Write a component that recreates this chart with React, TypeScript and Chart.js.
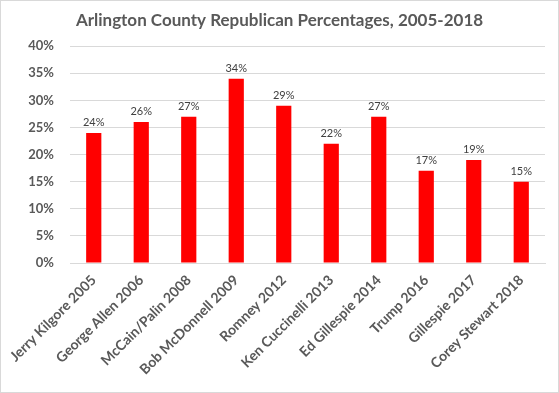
import React, { useEffect, useRef } from "react";
import { Chart, registerables } from "chart.js";

Chart.register(...registerables);

const categories = [
  "Jerry Kilgore 2005",
  "George Allen 2006",
  "McCain/Palin 2008",
  "Bob McDonnell 2009",
  "Romney 2012",
  "Ken Cuccinelli 2013",
  "Ed Gillespie 2014",
  "Trump 2016",
  "Gillespie 2017",
  "Corey Stewart 2018",
];
const percentages = [24, 26, 27, 34, 29, 22, 27, 17, 19, 15];
const yTicks = [0, 5, 10, 15, 20, 25, 30, 35, 40];
const title = "Arlington County Republican Percentages, 2005-2018";

const FONT = "Lato, 'Open Sans', sans-serif";

const dataLabels = {
  id: "dataLabels",
  afterDatasetsDraw(chart: any) {
    const ctx = chart.ctx;
    const meta = chart.getDatasetMeta(0);
    ctx.save();
    ctx.font = `11px ${FONT}`;
    ctx.fillStyle = "#404040";
    ctx.textAlign = "center";
    ctx.textBaseline = "bottom";
    meta.data.forEach((bar: any, i: number) => {
      ctx.fillText(`${percentages[i]}%`, bar.x, bar.y - 5);
    });
    ctx.restore();
  },
};

const frame = {
  id: "frame",
  beforeDraw(chart: any) {
    const ctx = chart.ctx;
    ctx.save();
    ctx.fillStyle = "#ffffff";
    ctx.fillRect(0, 0, chart.width, chart.height);
    ctx.strokeStyle = "#d9d9d9";
    ctx.lineWidth = 1;
    ctx.strokeRect(0.5, 0.5, chart.width - 1, chart.height - 1);
    ctx.restore();
  },
};

const titleDraw = {
  id: "titleDraw",
  afterDraw(chart: any) {
    const ctx = chart.ctx;
    ctx.save();
    ctx.font = `bold 17px ${FONT}`;
    ctx.fillStyle = "#595959";
    ctx.textAlign = "center";
    ctx.textBaseline = "alphabetic";
    ctx.fillText(title, chart.width / 2, 26);
    ctx.restore();
  },
};

export default function App() {
  const ref = useRef<HTMLCanvasElement>(null);
  useEffect(() => {
    document.body.style.margin = "0";
    const chart = new Chart(ref.current!, {
      type: "bar",
      data: {
        labels: categories,
        datasets: [
          {
            data: percentages,
            backgroundColor: "#ff0000",
            barPercentage: 0.32,
            categoryPercentage: 1,
          },
        ],
      },
      options: {
        responsive: false,
        animation: false,
        layout: { padding: { left: 0, right: 14, top: 0, bottom: 0 } },
        plugins: {
          legend: { display: false },
          tooltip: { enabled: false },
          title: {
            display: true,
            text: title,
            color: "rgba(0,0,0,0)",
            font: { family: FONT, size: 16, weight: "bold" },
            padding: { top: 9, bottom: 18 },
          },
        },
        scales: {
          x: {
            grid: { display: false, drawTicks: false },
            border: { display: true, color: "#d9d9d9" },
            ticks: {
              color: "#595959",
              font: { family: FONT, size: 14, weight: "bold" },
              maxRotation: 45,
              minRotation: 45,
              autoSkip: false,
              padding: 9,
            },
            afterFit(scale: any) {
              scale.height = 130;
            },
          },
          y: {
            min: 0,
            max: 40,
            afterBuildTicks(scale: any) {
              scale.ticks = yTicks.map((v) => ({ value: v }));
            },
            grid: { color: "#d9d9d9", drawTicks: false },
            border: { display: false },
            ticks: {
              color: "#595959",
              font: { family: FONT, size: 13, weight: "bold" },
              padding: 16,
              callback: (v: any) => `${v}%`,
            },
            afterFit(scale: any) {
              scale.width = 70;
            },
          },
        },
      },
      plugins: [frame, dataLabels, titleDraw],
    });
    return () => chart.destroy();
  }, []);
  return <canvas ref={ref} width={559} height={393} style={{ display: "block" }} />;
}
